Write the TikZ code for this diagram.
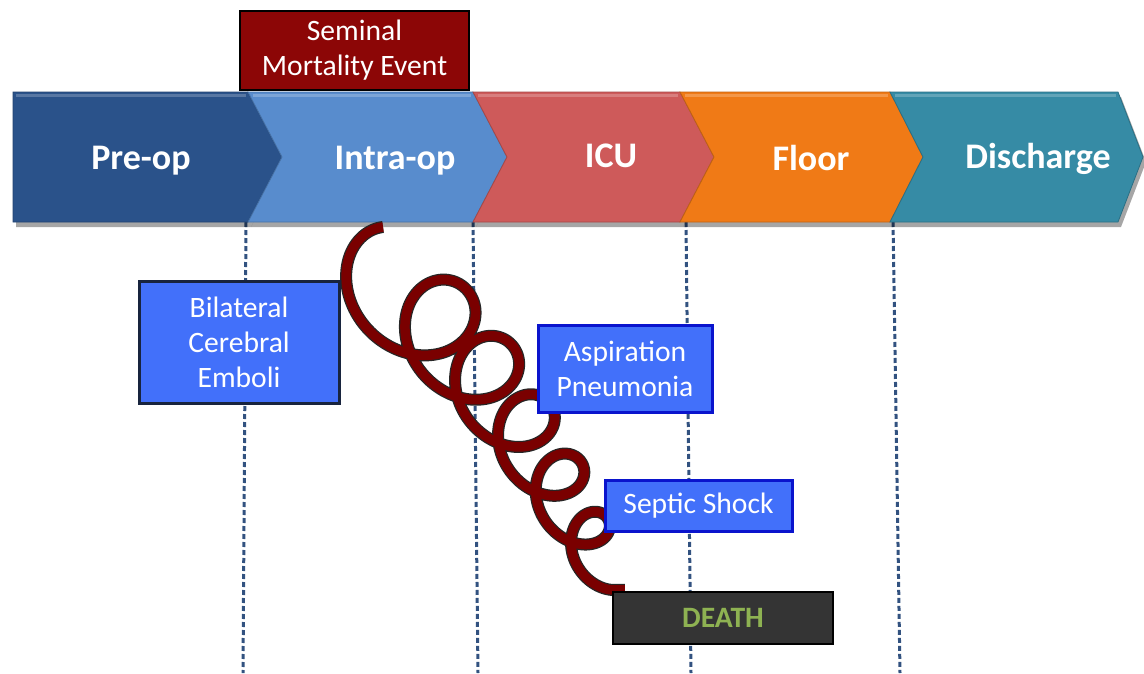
\documentclass[tikz,border=0pt]{standalone}
\usepackage{fontspec}
\setmainfont{Carlito}
\usetikzlibrary{shadows}
\definecolor{cpre}{RGB}{42,82,138}
\definecolor{cintra}{RGB}{88,140,205}
\definecolor{cicu}{RGB}{206,90,90}
\definecolor{cfloor}{RGB}{240,122,22}
\definecolor{cdis}{RGB}{54,139,165}
\definecolor{cseminal}{RGB}{140,6,6}
\definecolor{cbluebox}{RGB}{66,112,250}
\definecolor{cblueedge}{RGB}{10,20,205}
\definecolor{cnavyedge}{RGB}{24,36,62}
\definecolor{cdeath}{RGB}{52,52,52}
\definecolor{cdeathtext}{RGB}{142,178,82}
\definecolor{cdash}{RGB}{50,82,128}
\definecolor{ccoil}{RGB}{122,0,0}
\begin{document}
\begin{tikzpicture}[x=1pt,y=-1pt,
  chev/.style={fill=#1,draw=#1!80!black,line width=0.8pt,
    drop shadow={shadow xshift=3pt,shadow yshift=-5pt,opacity=0.35,fill=black}},
  bevel/.style={draw=white,opacity=0.22,line width=3pt},
  phase/.style={text=white,font=\fontsize{36}{40}\selectfont\bfseries,anchor=base,inner sep=0pt},
  boxtext/.style={text=white,font=\fontsize{29.6}{35}\selectfont,align=center,inner sep=0pt},
  bluebox/.style={boxtext,fill=cbluebox,draw=cblueedge,line width=3pt},
  vline/.style={draw=cdash,line width=3pt,dash pattern=on 5pt off 3pt},
  coilout/.style={draw=black!85,line width=12pt},
  coilin/.style={draw=ccoil,line width=9.5pt},
  declare function={
    ra=51; rb=55; tap=0.55;
    offx(\s)=ra*cos(\s)*0.781-rb*sin(\s)*0.624;
    offy(\s)=-ra*cos(\s)*0.624-rb*sin(\s)*0.781;
    czx=383-offx(50); czy=227-offy(50);
    cex=613-(1-tap)*offx(245.5); cey=590-(1-tap)*offy(245.5);
    uu(\s)=(\s-50)/1995.5;
    sc(\s)=1-tap*uu(\s);
    gg(\s)=(uu(\s)-0.11*uu(\s)*uu(\s))/0.89;
    bw(\s)=110*uu(\s)*(1-uu(\s))*sqrt(abs(1-uu(\s)));
    cxf(\s)=czx+(cex-czx)*gg(\s)+0.781*bw(\s);
    cyf(\s)=czy+(cey-czy)*gg(\s)-0.624*bw(\s);
    px(\s)=cxf(\s)+sc(\s)*offx(\s);
    py(\s)=cyf(\s)+sc(\s)*offy(\s);
  }
]
\useasboundingbox (0,0) rectangle (1144,673);
% dashed guide lines
\coordinate (d1t) at (246,222); \coordinate (d1b) at (243,673);
\coordinate (d2t) at (473,222); \coordinate (d2b) at (478,673);
\coordinate (d3t) at (686,222); \coordinate (d3b) at (691,673);
\coordinate (d4t) at (893,222); \coordinate (d4b) at (900,673);
\draw[vline] (d1t) -- (d1b);
\draw[vline] (d2t) -- (d2b);
\draw[vline] (d3t) -- (d3b);
\draw[vline] (d4t) -- (d4b);
% chevrons
\path[chev=cpre] (13,92) -- (248,92) -- (282,157) -- (248,222) -- (13,222) -- cycle;
\path[chev=cintra] (248,92) -- (473,92) -- (507,157) -- (473,222) -- (248,222) -- (282,157) -- cycle;
\path[chev=cicu] (473,92) -- (680,92) -- (714,157) -- (680,222) -- (473,222) -- (507,157) -- cycle;
\path[chev=cfloor] (680,92) -- (890,92) -- (923,157) -- (890,222) -- (680,222) -- (714,157) -- cycle;
\path[chev=cdis] (890,92) -- (1118,92) -- (1143,157) -- (1118,222) -- (890,222) -- (923,157) -- cycle;
\draw[bevel] (16,95) -- (246,95);
\draw[bevel] (253,95) -- (471,95);
\draw[bevel] (478,95) -- (678,95);
\draw[bevel] (685,95) -- (888,95);
\draw[bevel] (895,95) -- (1116,95);
\node[phase] (preop) at (141,169) {Pre-op};
\node[phase] (intraop) at (395,169) {Intra-op};
\node[phase] (icu) at (611,167) {ICU};
\node[phase] (floor) at (811,170) {Floor};
\node[phase] (discharge) at (1038,168) {Discharge};
% seminal event box
\node[boxtext,fill=cseminal,draw=black,line width=2.5pt,minimum width=229pt,minimum height=79pt]
  (seminal) at (354.5,50.5) {Seminal\\Mortality Event};
% coil
\coordinate (coilstart) at (383,227);
\coordinate (coilend) at (613,590);
\draw[coilout] plot[variable=\t,domain=50:2045.5,samples=800,smooth]
  ({px(\t)},{py(\t)}) -- ++(12,0);
\draw[coilin] plot[variable=\t,domain=50:2045.5,samples=800,smooth]
  ({px(\t)},{py(\t)}) -- ++(12,0);
% event boxes
\node[boxtext,fill=cbluebox,draw=cnavyedge,line width=3pt,minimum width=200pt,minimum height=122pt]
  (emboli) at (239,342) {Bilateral\\Cerebral\\Emboli};
\node[bluebox,minimum width=174pt,minimum height=87pt]
  (pneumonia) at (625,368.5) {Aspiration\\Pneumonia};
\node[bluebox,minimum width=187pt,minimum height=51pt]
  (septic) at (698.5,505.5) {Septic Shock};
\node[fill=cdeath,draw=black,line width=2.5pt,minimum width=220pt,minimum height=52pt,inner sep=0pt,
  text=cdeathtext,font=\fontsize{29.6}{35}\selectfont\bfseries]
  (death) at (723,618) {DEATH};
\end{tikzpicture}
\end{document}
